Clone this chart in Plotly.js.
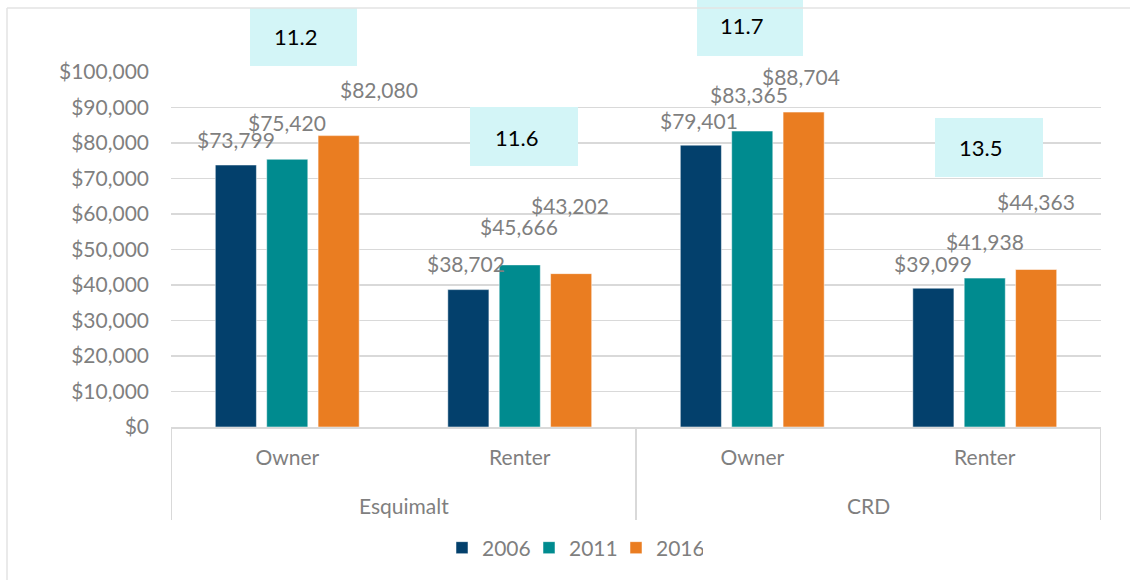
<!DOCTYPE html>
<html>
<head>
<meta charset="utf-8">
<script src="https://cdn.plot.ly/plotly-3.0.1.min.js"></script>
<style>html,body{margin:0;padding:0;background:#fff;}#chart{width:1130px;height:580px;}</style>
</head>
<body>
<div id="chart"></div>
<script>
// ---- data ----
const regions = ["Esquimalt", "CRD"];
const tenure = ["Owner", "Renter", "Owner", "Renter"];
const years = ["2006", "2011", "2016"];
const income2006 = [73799, 38702, 79401, 39099];
const income2011 = [75420, 45666, 83365, 41938];
const income2016 = [82080, 43202, 88704, 44363];
const ratioLabels = ["11.2", "11.6", "11.7", "13.5"];

// ---- styling / placement (not data) ----
const colors = ["#03406C", "#008B8F", "#EA7D21"];
const labelDx = [[0, -2, -2, 0], [0, -1, -3, 0], [40, -1, -3, 0]];
const labelDy = [[26, 26, 25, 25], [37, 38, 37, 37], [46, 68, 36, 68]];
// ratio boxes in pixel coords: [left, top, right, bottom, textLeft, textMidY]
const boxPx = [[250, 8, 357, 66, 272, 37], [470, 107, 578, 166, 493, 137],
               [697, 0, 803, 56, 718, 26], [935, 118, 1043, 177, 957, 147]];

const M = {l: 171, r: 29, t: 72, b: 153};
const W = 1130, H = 580;
const PW = W - M.l - M.r, PH = H - M.t - M.b;
const px2x = p => (p - M.l) / PW;
const py2y = p => (H - M.b - p) / PH;

const FONT = "Lato, 'Open Sans', sans-serif";
const GRAY = "#7f7f7f";
const LINE = "#d9d9d9";

const xs = tenure.map((_, i) => i);
const series = [income2006, income2011, income2016];

const traces = series.map((vals, k) => ({
  type: "bar",
  name: years[k],
  x: xs,
  y: vals,
  marker: {color: colors[k], line: {color: "rgba(255,255,255,0.5)", width: 1}},
  hoverinfo: "y"
}));

const bargap = 0.337, bargroupgap = 0.2;
const slot = (1 - bargap) / 3;

const annotations = [];
series.forEach((vals, k) => {
  vals.forEach((v, i) => {
    annotations.push({
      x: i + (k - 1) * slot, y: v, xref: "x", yref: "y",
      text: "$" + v.toLocaleString("en-US"),
      showarrow: false, xanchor: "center", yanchor: "middle",
      xshift: labelDx[k][i], yshift: labelDy[k][i],
      font: {family: FONT, size: 21, color: GRAY}
    });
  });
});
regions.forEach((r, j) => {
  annotations.push({
    x: 2 * j + 0.5, xref: "x", y: py2y(505), yref: "paper",
    text: r, showarrow: false, xanchor: "center", yanchor: "middle",
    font: {family: FONT, size: 21, color: GRAY}
  });
});
const shapes = [];
boxPx.forEach((b, i) => {
  shapes.push({type: "rect", xref: "paper", yref: "paper",
    x0: px2x(b[0]), x1: px2x(b[2]), y0: py2y(b[3]), y1: py2y(b[1]),
    fillcolor: "#D3F5F7", line: {width: 0}, layer: "above"});
  annotations.push({
    x: px2x(b[4]), y: py2y(b[5]), xref: "paper", yref: "paper",
    text: ratioLabels[i], showarrow: false, xanchor: "left", yanchor: "middle",
    font: {family: FONT, size: 22, color: "#000000"}
  });
});
// group dividers
[-0.5, 1.5, 3.5].forEach(xv => {
  shapes.push({type: "line", xref: "x", yref: "paper", x0: xv, x1: xv,
    y0: 0, y1: py2y(520), line: {color: LINE, width: 2}});
});
// outer frame (left and top)
shapes.push({type: "line", xref: "paper", yref: "paper", x0: px2x(7), x1: px2x(7),
  y0: py2y(8), y1: py2y(600), line: {color: "#e3e3e3", width: 1.5}});
shapes.push({type: "line", xref: "paper", yref: "paper", x0: px2x(7), x1: px2x(1140),
  y0: py2y(8), y1: py2y(8), line: {color: "#e3e3e3", width: 1.5}});

const layout = {
  width: W, height: H,
  margin: M,
  paper_bgcolor: "#ffffff", plot_bgcolor: "#ffffff",
  barmode: "group", bargap: bargap, bargroupgap: bargroupgap,
  font: {family: FONT, size: 21, color: GRAY},
  xaxis: {
    range: [-0.5, 3.5], tickvals: xs, ticktext: tenure,
    showgrid: false, zeroline: false, showline: true, linecolor: LINE, linewidth: 2,
    ticks: "", ticklabelstandoff: 11,
    tickfont: {family: FONT, size: 21, color: GRAY}, fixedrange: true
  },
  yaxis: {
    range: [0, 100000], dtick: 10000, tickprefix: "$", tickformat: ",",
    showgrid: true, gridcolor: LINE, gridwidth: 1.5, zeroline: false,
    ticks: "", ticklabelstandoff: 21,
    tickfont: {family: FONT, size: 21, color: GRAY}, fixedrange: true
  },
  showlegend: true,
  legend: {orientation: "h", x: px2x(442), xanchor: "left", y: py2y(548), yanchor: "middle",
    entrywidth: 42, entrywidthmode: "pixels",
    font: {family: FONT, size: 21, color: GRAY}, traceorder: "normal"},
  annotations: annotations,
  shapes: shapes
};

Plotly.newPlot("chart", traces, layout, {displayModeBar: false, staticPlot: true});
</script>
</body>
</html>
